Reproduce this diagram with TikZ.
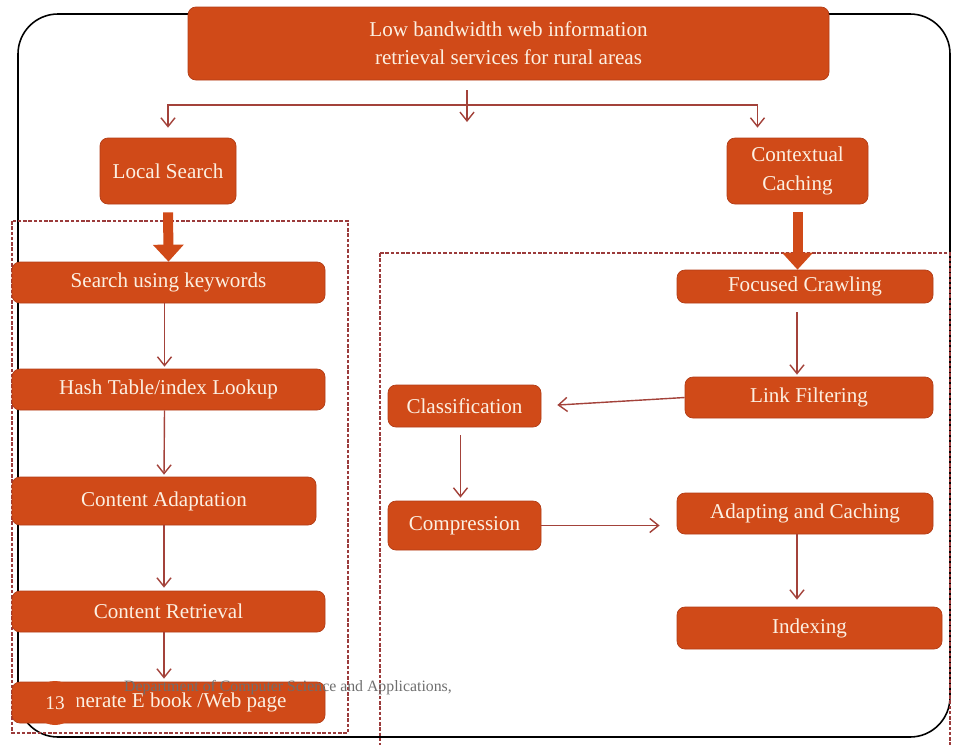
\documentclass[tikz,border=0pt]{standalone}
\usepackage{fontspec}
\setmainfont{Liberation Serif}
\usetikzlibrary{arrows.meta}

\definecolor{boxfill}{RGB}{208,74,24}
\definecolor{boxline}{RGB}{178,60,22}
\definecolor{boxtext}{RGB}{252,240,226}
\definecolor{arrcol}{RGB}{163,66,58}
\definecolor{dashcol}{RGB}{155,59,59}
\definecolor{footgray}{RGB}{110,110,110}

\newcommand{\pxu}{0.02cm}

\tikzset{
    box/.style={draw=boxline, fill=boxfill, text=boxtext, rounded corners=0.16cm,
                inner sep=0pt, align=center, font=\fontsize{12}{16}\selectfont},
    arr/.style={draw=arrcol, line width=0.8pt, -{Straight Barb[length=5pt,width=8pt]}},
    bigarr/.style={draw=boxfill, line width=10*\pxu, -{Triangle[length=17*\pxu,width=30*\pxu]}},
    frame/.style={dashcol, line width=0.6pt, dash pattern=on 2pt off 1pt}
}

\begin{document}
\begin{tikzpicture}[x=0.02cm, y=-0.02cm]
        \useasboundingbox (0,0) rectangle (955,744);

        % outer frame and groups
        \draw[black, line width=0.9pt, rounded corners=0.8cm] (18,14) rectangle (950,737);
        \draw[frame] (12,221) rectangle (348,733);
        \draw[frame] (380,253) rectangle (950,760);

        \node[box, minimum width=641*\pxu, minimum height=73*\pxu] (title)  at (508.5, 43.5) {Low bandwidth web information\\retrieval services for rural areas};
        \node[box, minimum width=136*\pxu, minimum height=66*\pxu] (local)  at (168,   171)  {Local Search};
        \node[box, minimum width=141*\pxu, minimum height=66*\pxu] (ctx)    at (797.5, 171)  {Contextual\\Caching};

        % left column
        \node[box, minimum width=313*\pxu, minimum height=41*\pxu] (kw)     at (168.5, 282.5) {Search using keywords};
        \node[box, minimum width=313*\pxu, minimum height=41*\pxu] (hash)   at (168.5, 389.5) {Hash Table/index Lookup};
        \node[box, minimum width=304*\pxu, minimum height=48*\pxu] (adapt)  at (164,   501)   {Content Adaptation};
        \node[box, minimum width=313*\pxu, minimum height=41*\pxu] (retr)   at (168.5, 611.5) {Content Retrieval};
        \node[box, minimum width=313*\pxu, minimum height=41*\pxu] (gen)    at (168.5, 702.5) {Generate E book /Web page};

        % right column
        \node[box, minimum width=256*\pxu, minimum height=33*\pxu] (focus)  at (805,   286.5) {Focused Crawling};
        \node[box, minimum width=248*\pxu, minimum height=41*\pxu] (link)   at (809,   397.5) {Link Filtering};
        \node[box, minimum width=153*\pxu, minimum height=42*\pxu] (cls)    at (464.5, 406)   {Classification};
        \node[box, minimum width=153*\pxu, minimum height=49*\pxu] (comp)   at (464.5, 525.5) {Compression};
        \node[box, minimum width=256*\pxu, minimum height=41*\pxu] (adc)    at (805,   513.5) {Adapting and Caching};
        \node[box, minimum width=265*\pxu, minimum height=42*\pxu] (idx)    at (809.5, 628)   {Indexing};

        % branching under the title
        \coordinate (split) at (467, 105);
        \coordinate (mid)   at (467, 122);
        \draw[arr, shorten <=10*\pxu] (title.south -| split) -- (mid);
        \draw[arr, shorten >=10*\pxu] (split) -| (local.north);
        \draw[arr, shorten >=10*\pxu] (split) -| ([xshift=-40*\pxu]ctx.north);

        \draw[bigarr, shorten <=8*\pxu] (local.south) -- (kw.north);
        \draw[bigarr, shorten <=8*\pxu] (ctx.south)   -- (ctx.south |- focus.north);

        \draw[arr, shorten >=2*\pxu] ([xshift=-4*\pxu]kw.south)   -- ([xshift=-4*\pxu]hash.north);
        \draw[arr, shorten >=2*\pxu] ([xshift=-4*\pxu]hash.south) -- (adapt.north);
        \draw[arr, shorten >=3*\pxu] (adapt.south) -- (adapt.south |- retr.north);
        \draw[arr, shorten >=3*\pxu] (adapt.south |- retr.south) -- (adapt.south |- gen.north);

        \draw[arr, shorten <=9*\pxu, shorten >=2*\pxu] ([xshift=-8*\pxu]focus.south) -- ([xshift=-8*\pxu]focus.south |- link.north);
        \draw[arr, shorten >=16*\pxu] (link.west) -- (cls.east);
        \draw[arr, shorten <=8*\pxu, shorten >=3*\pxu] ([xshift=-4*\pxu]cls.south) -- ([xshift=-4*\pxu]comp.north);
        \draw[arr, shorten >=17*\pxu] (comp.east) -- (comp.east -| adc.west);
        \draw[arr, shorten >=7*\pxu] ([xshift=-8*\pxu]adc.south) -- ([xshift=-8*\pxu]adc.south |- idx.north);

        % slide footer
        \node[anchor=west, text=footgray, font=\fontsize{9}{11}\selectfont] (dept) at (118, 688) {Department of Computer Science and Applications,};
        \node[circle, fill=boxfill, text=boxtext, minimum size=44*\pxu, inner sep=0pt, font=\fontsize{11}{13}\selectfont] (pg) at (55, 703) {13};
    \end{tikzpicture}
\end{document}
